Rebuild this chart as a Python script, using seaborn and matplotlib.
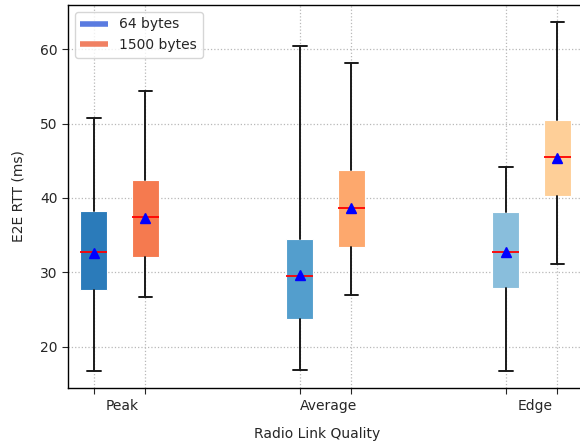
import matplotlib
matplotlib.use("Agg")
import matplotlib.pyplot as plt
import seaborn as sns
from matplotlib.lines import Line2D

# data (ms)
qualities = ["Peak", "Average", "Edge"]
sizes = ["64 bytes", "1500 bytes"]

# per quality: [64 bytes, 1500 bytes]
whislo = [[16.8, 26.7], [16.9, 27.0], [16.8, 31.1]]
q1 = [[27.6, 32.0], [23.7, 33.4], [27.9, 40.3]]
median = [[32.8, 37.4], [29.5, 38.7], [32.7, 45.5]]
mean = [[32.6, 37.3], [29.7, 38.6], [32.8, 45.4]]
q3 = [[38.2, 42.4], [34.5, 43.7], [38.1, 50.5]]
whishi = [[50.8, 54.4], [60.4, 58.1], [44.1, 63.6]]

blues = ["#2b7bba", "#539ecd", "#89bedc"]
oranges = ["#f57a4f", "#fda86d", "#fecf98"]

sns.set_style("white")
plt.rcParams["font.family"] = ["DejaVu Sans"]

fig = plt.figure(figsize=(5.8, 4.45), dpi=100)
# right spine sits just outside the picture, as in the reference
ax = fig.add_axes([0.117, 0.128, 0.9, 0.861])

stats, positions, colors = [], [], []
for i, q in enumerate(qualities):
    for j, s in enumerate(sizes):
        stats.append({
            "label": f"{q} {s}",
            "whislo": whislo[i][j], "q1": q1[i][j], "med": median[i][j],
            "mean": mean[i][j], "q3": q3[i][j], "whishi": whishi[i][j],
            "fliers": [],
        })
        positions.append(i + 0.25 * j)
        colors.append(blues[i] if j == 0 else oranges[i])

bp = ax.bxp(stats, positions=positions, widths=0.13, patch_artist=True,
            showmeans=True,
            boxprops=dict(edgecolor="white", linewidth=0.8),
            medianprops=dict(color="red", linewidth=1.3),
            meanprops=dict(marker="^", markerfacecolor="blue",
                           markeredgecolor="blue", markersize=6.5),
            whiskerprops=dict(color="#1a1a1a", linewidth=1.4),
            capprops=dict(color="#1a1a1a", linewidth=1.4))
for patch, c in zip(bp["boxes"], colors):
    patch.set_facecolor(c)

ax.set_xlim(-0.126, 2.408)
ax.set_xticks(positions)
ax.set_xticklabels([""] * len(positions))
ax.set_xticks([i + 0.14 for i in range(len(qualities))], minor=True)
ax.set_xticklabels(qualities, minor=True)
ax.tick_params(axis="x", which="minor", length=0, pad=8)
ax.tick_params(axis="both", which="major", length=4, direction="out",
               bottom=True, left=True, labelsize=10)
ax.set_yticks([20, 30, 40, 50, 60])

ax.grid(True, which="major", linestyle=":", color="#b8b8b8", linewidth=0.9)
for sp in ax.spines.values():
    sp.set_color("black")
    sp.set_linewidth(1.0)

ax.set_xlabel("Radio Link Quality", labelpad=10)
ax.xaxis.label.set_x(0.477)
ax.set_ylabel("E2E RTT (ms)", labelpad=10.5)

handles = [Line2D([0], [0], color="#5a7be0", lw=4, solid_capstyle="butt"),
           Line2D([0], [0], color="#f08062", lw=4, solid_capstyle="butt")]
ax.legend(handles, sizes, loc="upper left", fontsize=10)

fig.savefig("out.png", dpi=100)
